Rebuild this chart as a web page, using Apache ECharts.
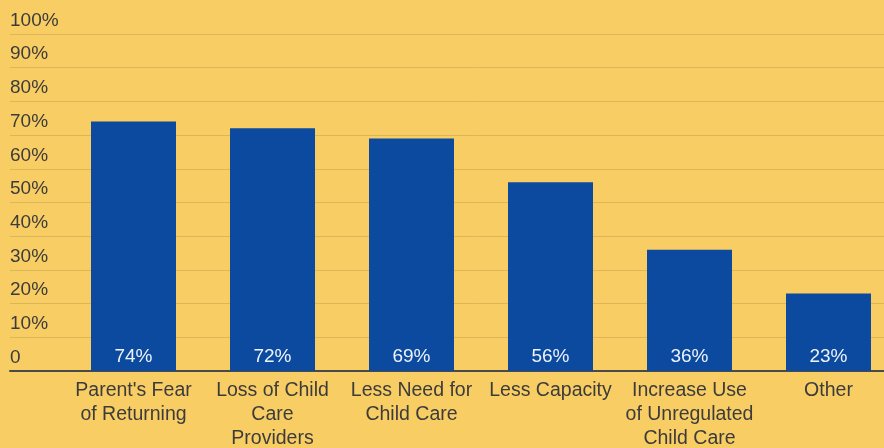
<!DOCTYPE html>
<html><head><meta charset="utf-8">
<script src="https://cdn.jsdelivr.net/npm/echarts@6/dist/echarts.min.js"></script>
<style>html,body{margin:0;padding:0;background:#F8CD63;}#c{width:884px;height:448px;}</style>
</head><body><div id="c"></div>
<script>
const categories = ["Parent's Fear\nof Returning", "Loss of Child\nCare\nProviders", "Less Need for\nChild Care", "Less Capacity", "Increase Use\nof Unregulated\nChild Care", "Other"];
const values = [74, 72, 69, 56, 36, 23];
const yTicks = [0, 10, 20, 30, 40, 50, 60, 70, 80, 90, 100];

const FONT = '"Liberation Sans", Arial, sans-serif';
const chart = echarts.init(document.getElementById('c'), null, {renderer: 'canvas'});
const gridColor = '#DDB658';
const axisColor = '#4A4A4A';
chart.setOption({
  backgroundColor: '#F8CD63',
  animation: false,
  grid: [
    {left: 64, right: -14, top: 34, bottom: 77, outerBoundsMode: 'none', containLabel: false},
    {left: 10, width: 54, top: 34, bottom: 77, outerBoundsMode: 'none', containLabel: false}
  ],
  xAxis: [
    {type: 'category', gridIndex: 0, data: categories,
     axisLine: {show: true, lineStyle: {color: axisColor, width: 2}},
     axisTick: {show: false},
     axisLabel: {interval: 0, color: '#3C3C3C', fontFamily: FONT, fontSize: 19.5, lineHeight: 24, margin: 8}},
    {type: 'category', gridIndex: 1, data: [''],
     axisLine: {show: true, lineStyle: {color: axisColor, width: 2}},
     axisTick: {show: false}, axisLabel: {show: false}}
  ],
  yAxis: [
    {type: 'value', gridIndex: 0, min: 0, max: 100, interval: 10,
     axisLine: {show: false}, axisTick: {show: false}, axisLabel: {show: false},
     splitLine: {show: true, lineStyle: {color: gridColor, width: 1}}},
    {type: 'value', gridIndex: 1, min: 0, max: 100, interval: 10,
     axisLine: {show: false}, axisTick: {show: false},
     axisLabel: {show: true, inside: true, margin: 0, align: 'left', verticalAlign: 'bottom',
       padding: [0, 0, 4, 0], color: '#3C3C3C', fontFamily: FONT, fontSize: 19,
       formatter: function (v) { return yTicks.indexOf(v) >= 0 ? (v === 0 ? '0' : v + '%') : ''; }},
     splitLine: {show: true, lineStyle: {color: gridColor, width: 1}}}
  ],
  series: [{
    type: 'bar', xAxisIndex: 0, yAxisIndex: 0, data: values, barWidth: 85,
    itemStyle: {color: '#0B4A9E'},
    label: {show: true, position: 'insideBottom', distance: 5, color: '#EEF2FA',
      fontFamily: FONT, fontSize: 19, formatter: '{c}%'}
  }]
});
</script></body></html>
